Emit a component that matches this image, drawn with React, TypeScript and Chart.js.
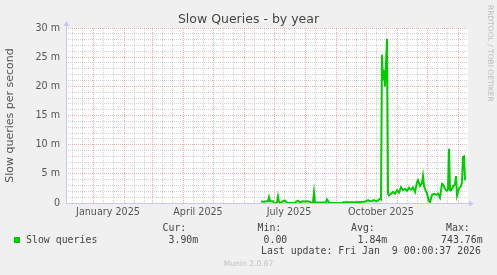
import React, { useEffect, useRef } from 'react';
import { Chart, registerables } from 'chart.js';

Chart.register(...registerables);

// Time axis: days since 5 Dec 2024 (400-day window ending 9 Jan 2026)
const sampleDays = [
  195, 198, 201, 202, 203, 204, 207, 208, 211, 212, 213, 215, 217, 219, 221, 222, 229, 230, 232, 234,
  237, 239, 242, 244, 245, 247, 248, 249, 250, 258, 260, 261, 263, 264, 276, 277, 290, 298, 300, 302,
  304, 306, 308, 310, 312, 314, 315, 316, 317, 318, 319, 320, 321, 322, 323, 325, 327, 329, 331, 333,
  335, 337, 339, 341, 343, 345, 347, 349, 351, 352, 354, 356, 357, 358, 359, 361, 363, 364, 366, 368,
  370, 372, 374, 376, 377, 379, 381, 382, 383, 384, 385, 387, 389, 390, 391, 393, 395, 396, 397, 398,
  399,
];
// Slow queries per second, in milli (m)
const slowQueries = [
  0.25, 0.2, 0.3, 0.3, 1.0, 0.3, 0.3, 0, 0.05, 1.1, 0.2, 0, 0.35, 0.4, 0.1, 0, 0, 0.2, 0.4, 0.1,
  0.3, 0.25, 0.3, 0.2, 0, 0.1, 1.8, 0.1, 0.1, 0.1, 0.1, 0.6, 0.1, 0, 0, 0.15, 0.15, 0.2, 0.3, 0.5,
  0.3, 0.35, 0.5, 0.3, 0.45, 0.7, 0.6, 25.4, 21, 22.8, 20, 24, 28.1, 1.6, 1.3, 1.6, 1.9, 1.6, 2.2, 1.8,
  2.7, 2.2, 2.4, 2.1, 2.6, 2.3, 2.7, 1.9, 3.6, 3.9, 2.9, 3.4, 4.6, 3.0, 2.4, 1.6, 0.3, 0.15, 1.4, 1.6,
  1.4, 1.6, 0.9, 3.3, 3.2, 2.4, 2.1, 2.4, 9.3, 2.2, 2.2, 2.8, 3.2, 4.6, 1.3, 2.5, 2.9, 3.6, 7.9, 8.0,
  3.9,
];

// Month boundaries (major grid), minor grid days, and labelled months
const monthStartDays = [27, 58, 86, 117, 147, 178, 208, 239, 270, 300, 331, 361, 392];
const minorGridDays = [
  6, 16, 37, 47, 68, 78, 96, 106, 127, 137, 157, 167, 188, 198, 218, 228, 249, 259, 280, 290,
  310, 320, 341, 351, 371, 381,
];
const xLabelDays = [42, 132, 223, 315];
const xLabelTexts = ['January 2025', 'April 2025', 'July 2025', 'October 2025'];

const yMin = 0;
const yMax = 30;
const yMajorStep = 5;
const yTickText = (v: number) => (v === 0 ? '0' : `${v} m`);

const legendName = 'Slow queries';
const legendCur = '3.90m';
const legendMin = '0.00';
const legendAvg = '1.84m';
const legendMax = '743.76m';
const lastUpdate = 'Last update: Fri Jan  9 00:00:37 2026';

const MAJOR = 'rgba(225, 100, 100, 0.5)';
const MINOR = 'rgba(140, 140, 140, 0.38)';
const AXIS = '#C8C8F4';
const TEXT = '#555555';

const rrdPlugin = {
  id: 'rrdDecor',
  beforeDraw(chart: any) {
    const { ctx, chartArea: a, width, height } = chart;
    ctx.save();
    ctx.fillStyle = '#F0F0F0';
    ctx.fillRect(0, 0, width, height);
    ctx.fillStyle = '#FFFFFF';
    ctx.fillRect(a.left, a.top, a.right - a.left, a.bottom - a.top);
    ctx.restore();
  },
  afterDatasetsDraw(chart: any) {
    const { ctx, chartArea: a } = chart;
    const x0 = Math.round(a.left) + 0.5;
    const y0 = Math.round(a.bottom) + 0.5;
    ctx.save();
    ctx.strokeStyle = AXIS;
    ctx.fillStyle = AXIS;
    ctx.lineWidth = 1;
    ctx.beginPath();
    ctx.moveTo(x0, y0);
    ctx.lineTo(x0, a.top - 4);
    ctx.moveTo(x0, y0);
    ctx.lineTo(a.right + 1, y0);
    ctx.stroke();
    ctx.beginPath();
    ctx.moveTo(x0, a.top - 7);
    ctx.lineTo(x0 - 3, a.top - 2);
    ctx.lineTo(x0 + 3, a.top - 2);
    ctx.closePath();
    ctx.fill();
    ctx.beginPath();
    ctx.moveTo(a.right + 6, y0);
    ctx.lineTo(a.right + 1, y0 - 3);
    ctx.lineTo(a.right + 1, y0 + 3);
    ctx.closePath();
    ctx.fill();
    ctx.restore();
  },
};

export default function App() {
  const canvasRef = useRef<HTMLCanvasElement | null>(null);

  useEffect(() => {
    document.body.style.margin = '0';
    const canvas = canvasRef.current;
    if (!canvas) return;
    const data = sampleDays.map((d, i) => ({ x: d, y: slowQueries[i] }));
    const monthSet = new Set(monthStartDays);
    const labelMap = new Map(xLabelDays.map((d, i) => [d + 0.001, xLabelTexts[i]]));

    const chart = new Chart(canvas, {
      type: 'line',
      data: {
        datasets: [
          {
            label: legendName,
            data,
            borderColor: '#00CC00',
            backgroundColor: '#00CC00',
            borderWidth: 2,
            pointRadius: 0,
            tension: 0,
            fill: false,
          },
        ],
      },
      plugins: [rrdPlugin],
      options: {
        animation: false,
        responsive: false,
        devicePixelRatio: 1,
        layout: { padding: { top: 28, right: 29, left: 0, bottom: 0 } },
        plugins: {
          legend: { display: false },
          tooltip: { enabled: false },
          title: { display: false },
        },
        scales: {
          x: {
            type: 'linear',
            min: 0,
            max: 402,
            afterFit: (s: any) => {
              s.height = 72;
            },
            afterBuildTicks: (s: any) => {
              const t: any[] = [];
              monthStartDays.forEach((d) => t.push({ value: d }));
              minorGridDays.forEach((d) => t.push({ value: d }));
              xLabelDays.forEach((d) => t.push({ value: d + 0.001 }));
              t.sort((p, q) => p.value - q.value);
              s.ticks = t;
            },
            grid: {
              drawTicks: false,
              color: (c: any) => {
                const v = c.tick ? c.tick.value : -1;
                if (monthSet.has(v)) return MAJOR;
                if (labelMap.has(v)) return 'rgba(0,0,0,0)';
                return MINOR;
              },
            },
            border: { display: false, dash: [1, 1] },
            ticks: {
              autoSkip: false,
              maxRotation: 0,
              minRotation: 0,
              padding: 4,
              color: TEXT,
              font: { family: 'DejaVu Sans', size: 9.6 },
              callback: (v: any) => labelMap.get(v) ?? '',
            },
          },
          y: {
            type: 'linear',
            min: yMin,
            max: yMax,
            afterFit: (s: any) => {
              s.width = 66;
            },
            grid: {
              drawTicks: false,
              color: (c: any) => {
                const v = c.tick ? c.tick.value : -1;
                if (v === 0) return 'rgba(0,0,0,0)';
                return v % yMajorStep === 0 ? MAJOR : MINOR;
              },
            },
            border: { display: false, dash: [1, 1] },
            ticks: {
              stepSize: 1,
              autoSkip: false,
              padding: 6,
              color: TEXT,
              font: { family: 'DejaVu Sans', size: 9.6 },
              callback: (v: any) => (Number(v) % yMajorStep === 0 ? yTickText(Number(v)) : ''),
            },
            title: {
              display: true,
              text: 'Slow queries per second',
              color: TEXT,
              font: { family: 'DejaVu Sans', size: 11 },
              padding: { top: 4, bottom: 0 },
            },
          },
        },
      },
    });
    return () => chart.destroy();
  }, []);

  const mono: React.CSSProperties = {
    position: 'absolute',
    fontFamily: '"DejaVu Sans Mono", monospace',
    fontSize: '9.9px',
    lineHeight: '12px',
    color: '#444444',
    whiteSpace: 'pre',
    margin: 0,
  };

  return (
    <div
      style={{
        position: 'fixed',
        left: 0,
        top: 0,
        width: 497,
        height: 275,
        background: '#F0F0F0',
        overflow: 'hidden',
      }}
    >
      <canvas ref={canvasRef} width={497} height={275} style={{ position: 'absolute', left: 0, top: 0, width: 497, height: 275 }} />
      <div
        style={{
          position: 'absolute',
          left: 0,
          top: 11,
          width: 497,
          textAlign: 'center',
          fontFamily: '"DejaVu Sans", sans-serif',
          fontSize: '12.5px',
          lineHeight: '15px',
          color: '#444444',
        }}
      >
        Slow Queries - by year
      </div>
      <div
        style={{
          position: 'absolute',
          left: 490,
          top: 5,
          transformOrigin: '0 0',
          transform: 'rotate(90deg) translateY(-4px)',
          fontFamily: '"DejaVu Sans", sans-serif',
          fontSize: '7.5px',
          lineHeight: '8px',
          color: '#BBBBBB',
          whiteSpace: 'pre',
        }}
      >
        RRDTOOL / TOBI OETIKER
      </div>
      <div style={{ position: 'absolute', left: 14, top: 237, width: 6, height: 6, background: '#00CC00' }} />
      <div style={{ ...mono, left: 26, top: 233.5 }}>{legendName}</div>
      <div style={{ ...mono, left: 162.5, top: 222 }}>Cur:</div>
      <div style={{ ...mono, left: 168.5, top: 233.5 }}>{legendCur}</div>
      <div style={{ ...mono, left: 257.5, top: 222 }}>Min:</div>
      <div style={{ ...mono, left: 263.5, top: 233.5 }}>{legendMin}</div>
      <div style={{ ...mono, left: 351, top: 222 }}>Avg:</div>
      <div style={{ ...mono, left: 357.5, top: 233.5 }}>{legendAvg}</div>
      <div style={{ ...mono, left: 446, top: 222 }}>Max:</div>
      <div style={{ ...mono, left: 441, top: 233.5 }}>{legendMax}</div>
      <div style={{ ...mono, left: 261, top: 245 }}>{lastUpdate}</div>
      <div
        style={{
          position: 'absolute',
          left: 0,
          top: 258.5,
          width: 497,
          textAlign: 'center',
          fontFamily: '"DejaVu Sans", sans-serif',
          fontSize: '7.6px',
          lineHeight: '9px',
          color: '#C0C0C0',
        }}
      >
        Munin 2.0.67
      </div>
    </div>
  );
}
